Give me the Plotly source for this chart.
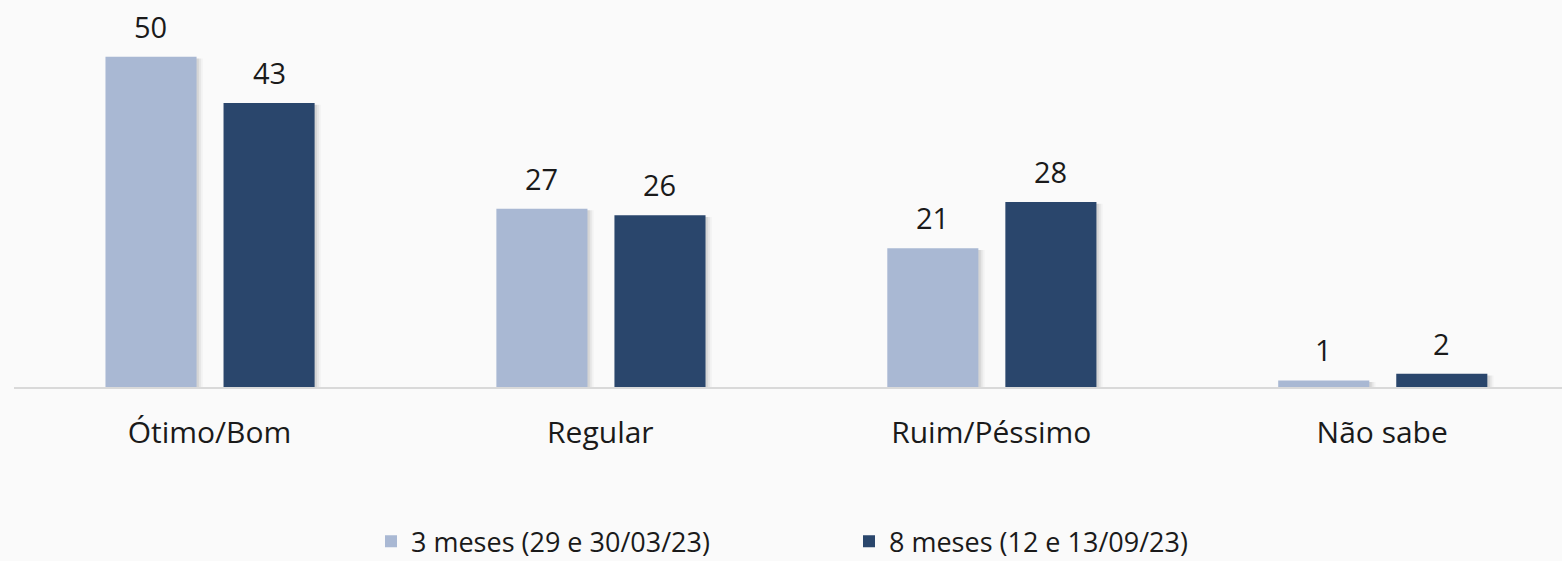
import plotly.graph_objects as go

categories = ["Ótimo/Bom", "Regular", "Ruim/Péssimo", "Não sabe"]
series_names = ["3 meses (29 e 30/03/23)", "8 meses (12 e 13/09/23)"]
values_3m = [50, 27, 21, 1]
values_8m = [43, 26, 28, 2]
colors = ["#A9B8D3", "#2A466C"]

font_main = "Open Sans, DejaVu Sans, sans-serif"
BG = "#fafafa"

bar_w = 0.233
offsets = [-0.266, 0.036]
px_per_cat = 391

fig = go.Figure()
# soft shadows behind bars
for vals, off in zip([values_3m, values_8m], offsets):
    for k, a in [(0.006, 0.07), (0.011, 0.05), (0.016, 0.03)]:
        fig.add_trace(go.Bar(
            x=categories, y=vals, width=bar_w, offset=off + k,
            base=-0.25, marker=dict(color=f"rgba(0,0,0,{a})", line=dict(width=0)),
            showlegend=False, hoverinfo="skip",
        ))

for name, vals, col, off in zip(series_names, [values_3m, values_8m], colors, offsets):
    fig.add_trace(go.Bar(
        x=categories, y=vals, name=name, width=bar_w, offset=off,
        marker=dict(color=col, line=dict(width=0)),
    ))

annotations = []
for vals, off in zip([values_3m, values_8m], offsets):
    for c, v in zip(categories, vals):
        annotations.append(dict(
            x=c, y=v, xref="x", yref="y", text=str(v), showarrow=False,
            xanchor="center", yanchor="bottom",
            xshift=(off + bar_w / 2) * px_per_cat, yshift=9,
            font=dict(size=29, color="#1a1a1a", family=font_main),
        ))

fig.update_layout(
    width=1562, height=561,
    margin=dict(l=14, r=0, t=0, b=174, autoexpand=False),
    barmode="overlay",
    paper_bgcolor=BG, plot_bgcolor=BG,
    showlegend=True,
    annotations=annotations,
    legend=dict(orientation="h", x=(385 - 14 - 14) / 1548, xanchor="left", y=-0.40, yanchor="middle",
                font=dict(size=27, color="#1a1a1a", family=font_main),
                itemwidth=30, entrywidth=433, traceorder="normal", bgcolor="rgba(0,0,0,0)"),
    xaxis=dict(range=[-0.5, 3.46], showline=True, linecolor="#d9d9d9", linewidth=2,
               tickfont=dict(size=30, color="#1a1a1a", family=font_main),
               ticks="", ticklabelstandoff=18, showgrid=False, automargin=False),
    yaxis=dict(range=[0, 58.6], visible=False, showgrid=False, zeroline=False),
)

fig.write_html(
    "out.html",
    config={"displayModeBar": False},
    post_script="document.body.style.margin='0px';document.body.style.background='#fafafa';",
)
